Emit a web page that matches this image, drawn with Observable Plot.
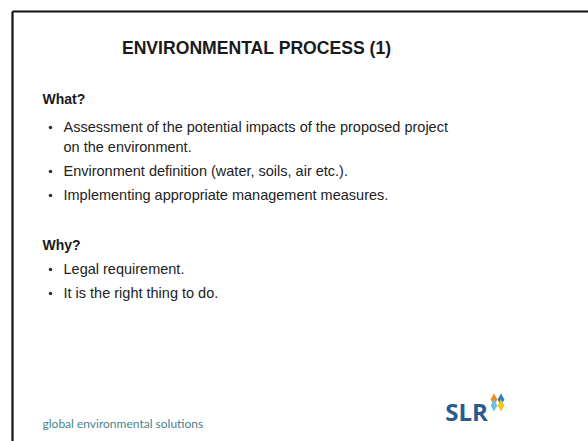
<!DOCTYPE html>
<html><head><meta charset="utf-8">
<script src="https://cdn.jsdelivr.net/npm/d3@7"></script>
<script src="https://cdn.jsdelivr.net/npm/@observablehq/plot@0.6"></script>
<style>html,body{margin:0;padding:0;background:#fff;overflow:hidden}</style>
</head><body><div id="chart"></div>
<script>
// ---- content ----
const title = "ENVIRONMENTAL PROCESS (1)";
const sectionHeadings = ["What?", "Why?"];
const whatBullets = [
  ["Assessment of the potential impacts of the proposed project", "on the environment."],
  ["Environment definition (water, soils, air etc.)."],
  ["Implementing appropriate management measures."]
];
const whyBullets = [
  ["Legal requirement."],
  ["It is the right thing to do."]
];
const sections = [whatBullets, whyBullets];
const footerText = "global environmental solutions";
const logoText = "SLR";
const logoIconColors = ["#f08a24", "#2f7fc1", "#f5c518", "#6cc3e8"];

// ---- layout ----
const W = 588, H = 441;
const sectionTop = [99, 245];
const headToBullet = [28, 24];
const wrapGap = 20, bulletGap = 24;
const headings = [], bulletDots = [], lines = [];
sections.forEach((bul, s) => {
  headings.push({text: sectionHeadings[s], x: 42, y: sectionTop[s]});
  let y = sectionTop[s] + headToBullet[s];
  bul.forEach(item => {
    bulletDots.push({x: 50, y});
    item.forEach((t, k) => {
      lines.push({text: t, x: 63, y});
      y += (k < item.length - 1) ? wrapGap : bulletGap;
    });
  });
});
const border = [{x1: 12, y1: 11, x2: W + 5, y2: 11}, {x1: 12, y1: 11, x2: 12, y2: H + 5}];
const iconPieces = logoIconColors.map((c, i) => ({
  x: 497 + [-3.5, 3.5, 3.5, -3.5][i], y: 402 + [-3, -3, 3, 3][i], c
}));

const chart = Plot.plot({
  width: W, height: H,
  margin: 0,
  x: {domain: [0, W], range: [0, W], axis: null},
  y: {domain: [0, H], range: [0, H], axis: null},
  style: {background: "#fff"},
  marks: [
    Plot.link(border, {x1: "x1", y1: "y1", x2: "x2", y2: "y2", stroke: "#111", strokeWidth: 2.2}),
    Plot.text([title], {x: () => 256, y: () => 48, text: d => d, fontFamily: "Liberation Sans", fontWeight: "bold", fontSize: 17.6, fill: "#1a1a1a"}),
    Plot.text(headings, {x: "x", y: "y", text: "text", textAnchor: "start", fontFamily: "Liberation Sans", fontWeight: "bold", fontSize: 14, fill: "#1a1a1a"}),
    Plot.dot(bulletDots, {x: "x", y: "y", r: 1.8, fill: "#333", stroke: null}),
    Plot.text(lines, {x: "x", y: "y", text: "text", textAnchor: "start", fontFamily: "Liberation Sans", fontSize: 14.5, fill: "#222"}),
    Plot.text([footerText], {x: () => 42, y: () => 424, text: d => d, textAnchor: "start", fontFamily: "Lato", fontSize: 12, fill: "#4a8389"}),
    Plot.text([logoText], {x: () => 466, y: () => 413, text: d => d, fontFamily: "Open Sans", fontWeight: "bold", fontSize: 24, fill: "#2b5b8c"}),
    Plot.dot(iconPieces, {x: "x", y: "y", r: 3.6, fill: "c", stroke: null, symbol: "diamond"})
  ]
});
document.getElementById("chart").append(chart);
</script>
</body></html>
